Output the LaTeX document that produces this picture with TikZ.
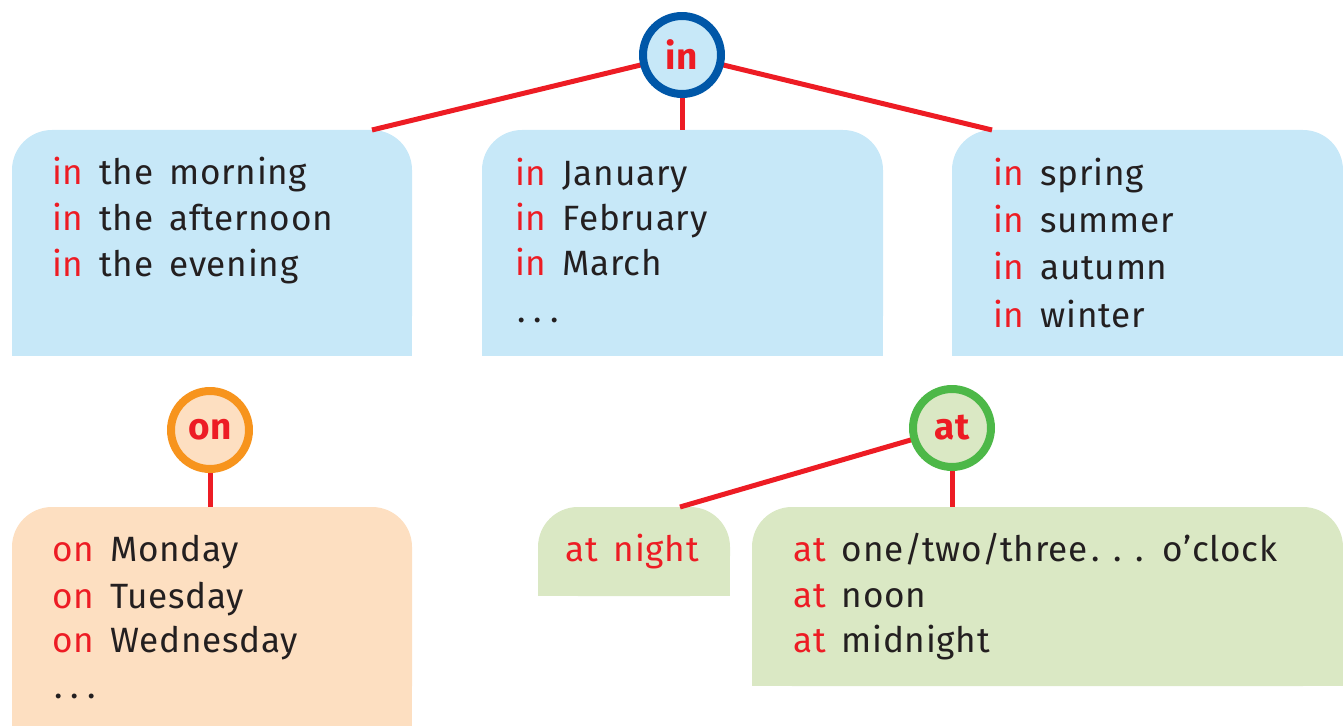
\documentclass[tikz,border=0pt]{standalone}
\usepackage{fontspec}
\setmainfont{Fira Sans}[WordSpace=1.6, LetterSpace=2]
\usetikzlibrary{backgrounds}
\definecolor{bluefill}{HTML}{C7E8F8}
\definecolor{bluering}{HTML}{0057A8}
\definecolor{orangefill}{HTML}{FDDFC1}
\definecolor{orangering}{HTML}{F7941D}
\definecolor{greenfill}{HTML}{DAE8C4}
\definecolor{greenring}{HTML}{4DB848}
\definecolor{kwred}{HTML}{ED1C24}
\definecolor{txt}{HTML}{231F20}
\newcommand\kw[1]{\textcolor{kwred}{#1}}
\newcommand\dotsA{.\hspace{4.6pt}.\hspace{4.6pt}.}
\newcommand\dotsB{\hspace{2.5pt}.\hspace{7.5pt}.\hspace{7.5pt}.}
\tikzset{
  line/.style={anchor=base west, inner sep=0pt, text=txt, font=\fontsize{20}{26}\selectfont},
  prep/.style={circle, line width=0.16cm, minimum size=1.56cm, inner sep=0pt, text=kwred, font=\fontsize{21}{26}\selectfont\bfseries},
  conn/.style={draw=kwred, line width=0.1cm},
}
\newcommand\topbox[5]{%
  \fill[#5, rounded corners=0.8cm] (#1,#2) rectangle (#3,#4);
  \fill[#5] (#1,#2+45) rectangle (#3,#4);}
\begin{document}
\begin{tikzpicture}[x=0.02cm, y=-0.02cm]
\useasboundingbox (0,0) rectangle (1343,726);
% circles
\node[prep, draw=bluering, fill=bluefill] (in) at (682,55) {in};
\node[prep, draw=orangering, fill=orangefill] (on) at (210,430) {on};
\node[prep, draw=greenring, fill=greenfill] (at) at (952,428) {at};
% attach points
\coordinate (b1top) at (372,130);
\coordinate (b2top) at (682,130);
\coordinate (b3top) at (992,130);
\coordinate (b4top) at (210,507);
\coordinate (b5top) at (680,507);
\coordinate (b6top) at (952,507);
\begin{scope}[on background layer]
  \topbox{12}{130}{412}{356}{bluefill}
  \topbox{482}{130}{883}{356}{bluefill}
  \topbox{952}{130}{1343}{356}{bluefill}
  \topbox{12}{507}{412}{726}{orangefill}
  \topbox{538}{507}{730}{596}{greenfill}
  \topbox{752}{507}{1343}{686}{greenfill}
  \draw[conn] (in.center) -- (b1top);
  \draw[conn] (in.center) -- (b2top);
  \draw[conn] (in.center) -- (b3top);
  \draw[conn] (on.center) -- (b4top);
  \draw[conn] (at.center) -- (b5top);
  \draw[conn] (at.center) -- (b6top);
\end{scope}
% box 1
\node[line] (t11) at (52,185) {\kw{in} the morning};
\node[line] (t12) at (52,231) {\kw{in} the afternoon};
\node[line] (t13) at (52,277) {\kw{in} the evening};
% box 2
\node[line] (t21) at (515,186) {\kw{in} January};
\node[line] (t22) at (515,231) {\kw{in} February};
\node[line] (t23) at (515,276) {\kw{in} March};
\node[line] (t24) at (517,323) {\dotsA};
% box 3
\node[line] (t31) at (993,186) {\kw{in} spring};
\node[line] (t32) at (993,233) {\kw{in} summer};
\node[line] (t33) at (993,280) {\kw{in} autumn};
\node[line] (t34) at (993,328) {\kw{in} winter};
% on box
\node[line] (t41) at (52,561) {\kw{on} Monday};
\node[line] (t42) at (52,608) {\kw{on} Tuesday};
\node[line] (t43) at (52,652) {\kw{on} Wednesday};
\node[line] (t44) at (54,698) {\dotsA};
% at boxes
\node[line] (t51) at (565,561) {\kw{at night}};
\node[line] (t61) at (793,561) {\kw{at} one/two/three\dotsB{} o’clock};
\node[line] (t62) at (793,607) {\kw{at} noon};
\node[line] (t63) at (793,652) {\kw{at} midnight};
\end{tikzpicture}
\end{document}
